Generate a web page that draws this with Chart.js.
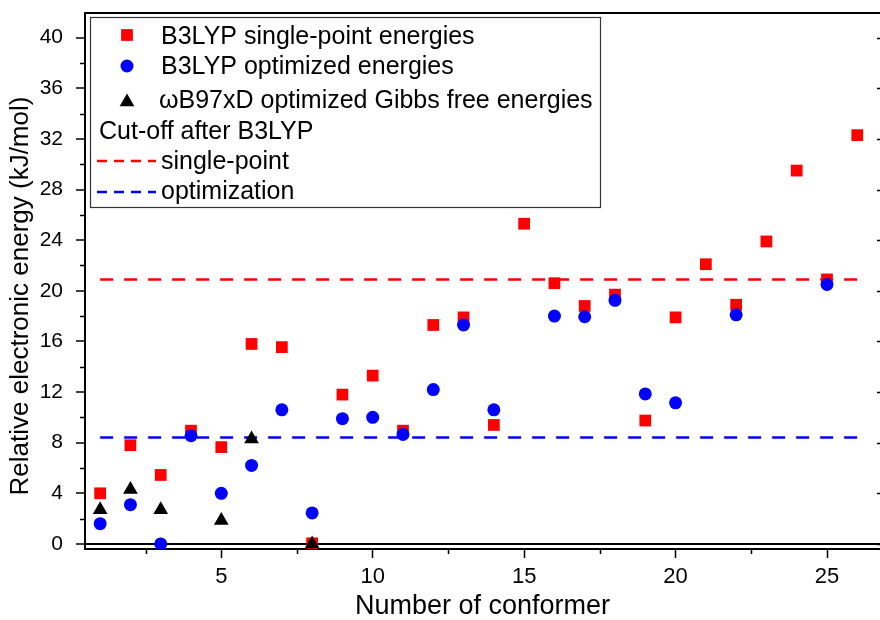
<!DOCTYPE html>
<html>
<head>
<meta charset="utf-8">
<script src="https://cdn.jsdelivr.net/npm/chart.js@4.4.0/dist/chart.umd.min.js"></script>
<style>
  html, body { margin:0; padding:0; background:#fff; }
</style>
</head>
<body>
<canvas id="chart" width="880" height="620"></canvas>
<script>
const conformers  = [1, 2, 3, 4, 5, 6, 7, 8, 9, 10, 11, 12, 13, 14, 15, 16, 17, 18, 19, 20, 21, 22, 23, 24, 25, 26];
const singlePoint = [4.0, 7.8, 5.45, 8.95, 7.65, 15.8, 15.55, 0.05, 11.8, 13.3, 8.95, 17.3, 17.9, 9.4, 25.3, 20.6, 18.8, 19.7, 9.75, 17.9, 22.1, 18.9, 23.9, 29.5, 20.9, 32.3];
const optimized   = [1.6, 3.1, 0.0, 8.55, 4.0, 6.2, 10.6, 2.45, 9.9, 10.0, 8.65, 12.2, 17.3, 10.6, null, 18.0, 17.95, 19.25, 11.85, 11.15, null, 18.1, null, null, 20.5, null];
const gibbs       = [2.7, 4.3, 2.7, null, 1.85, 8.3, null, 0.0, null, null, null, null, null, null, null, null, null, null, null, null, null, null, null, null, null, null];
const cutoffRange = [1, 26];
const cutoffSinglePoint  = 20.9;
const cutoffOptimization = 8.4;
const xTicks      = [5, 10, 15, 20, 25];
const xMinorTicks = [2.5, 7.5, 12.5, 17.5, 22.5];
const yTicks      = [0, 4, 8, 12, 16, 20, 24, 28, 32, 36, 40];
const yMinorTicks = [2, 6, 10, 14, 18, 22, 26, 30, 34, 38];

const FONT = "'Liberation Sans', Arial, sans-serif";
const R_SQUARE = 8.3, R_CIRCLE = 6.5, R_TRIANGLE = 8.5;

function pts(ys){
  const out = [];
  ys.forEach((y, i) => { if (y !== null) out.push({x: conformers[i], y: y}); });
  return out;
}

// frame, minor ticks, right ticks, y title, legend
const decor = {
  id: 'decor',
  afterDraw(chart){
    const {ctx, chartArea: a, scales: {x, y}} = chart;
    ctx.save();
    ctx.strokeStyle = '#000';

    // top spine
    ctx.lineWidth = 2;
    ctx.beginPath();
    ctx.moveTo(a.left, a.top); ctx.lineTo(a.right, a.top);
    ctx.stroke();

    // minor ticks
    ctx.lineWidth = 1.5;
    ctx.beginPath();
    xMinorTicks.forEach(v => {
      const px = Math.round(x.getPixelForValue(v)) + 0.5;
      ctx.moveTo(px, a.bottom); ctx.lineTo(px, a.bottom + 5);
    });
    yMinorTicks.forEach(v => {
      const py = Math.round(y.getPixelForValue(v)) + 0.5;
      ctx.moveTo(a.left, py); ctx.lineTo(a.left - 5, py);
    });
    // right side ticks
    yTicks.forEach(v => {
      const py = Math.round(y.getPixelForValue(v)) + 0.5;
      ctx.moveTo(877, py); ctx.lineTo(881, py);
    });
    ctx.stroke();

    // y title
    ctx.fillStyle = '#000';
    ctx.font = '26px ' + FONT;
    ctx.textAlign = 'center';
    ctx.textBaseline = 'middle';
    ctx.translate(21, 296);
    ctx.rotate(-Math.PI / 2);
    ctx.fillText('Relative electronic energy (kJ/mol)', 0, 0);
    ctx.restore();

    // legend
    ctx.save();
    ctx.strokeStyle = '#333';
    ctx.lineWidth = 1.2;
    ctx.strokeRect(90.5, 17.5, 510, 190);
    ctx.font = '25px ' + FONT;
    ctx.textBaseline = 'middle';
    ctx.textAlign = 'left';
    const draw = Chart.helpers.drawPoint;
    ctx.fillStyle = '#ff0000';
    draw(ctx, {pointStyle: 'rect', radius: R_SQUARE, rotation: 0, borderWidth: 0}, 127, 35);
    ctx.fillStyle = '#0000ff';
    draw(ctx, {pointStyle: 'circle', radius: R_CIRCLE, rotation: 0, borderWidth: 0}, 127, 66);
    ctx.fillStyle = '#000';
    draw(ctx, {pointStyle: 'triangle', radius: R_TRIANGLE, rotation: 0, borderWidth: 0}, 127, 102);
    ctx.fillStyle = '#000';
    ctx.fillText('B3LYP single-point energies', 161, 37);
    ctx.fillText('B3LYP optimized energies', 161, 67);
    ctx.fillText('\u03c9B97xD optimized Gibbs free energies', 159, 101);
    ctx.fillText('Cut-off after B3LYP', 99, 132);
    ctx.fillText('single-point', 161, 162);
    ctx.fillText('optimization', 161, 192);
    ctx.lineWidth = 2.5;
    ctx.setLineDash([10, 7]);
    ctx.strokeStyle = '#ff0000';
    ctx.beginPath(); ctx.moveTo(97, 161); ctx.lineTo(156, 161); ctx.stroke();
    ctx.strokeStyle = '#0000ff';
    ctx.beginPath(); ctx.moveTo(97, 192); ctx.lineTo(156, 192); ctx.stroke();
    ctx.restore();
  }
};

new Chart(document.getElementById('chart'), {
  type: 'scatter',
  data: {
    datasets: [
      {
        label: '\u03c9B97xD optimized Gibbs free energies',
        data: pts(gibbs),
        pointStyle: 'triangle',
        pointRadius: R_TRIANGLE,
        backgroundColor: '#000',
        borderWidth: 0,
        order: 0
      },
      {
        label: 'B3LYP optimized energies',
        data: pts(optimized),
        pointStyle: 'circle',
        pointRadius: R_CIRCLE,
        backgroundColor: '#0000ff',
        borderWidth: 0,
        order: 1
      },
      {
        label: 'B3LYP single-point energies',
        data: pts(singlePoint),
        pointStyle: 'rect',
        pointRadius: R_SQUARE,
        backgroundColor: '#ff0000',
        borderWidth: 0,
        order: 2
      },
      {
        label: 'single-point',
        type: 'line',
        data: cutoffRange.map(v => ({x: v, y: cutoffSinglePoint})),
        borderColor: '#ff0000',
        borderWidth: 2.5,
        borderDash: [13, 11],
        pointRadius: 0,
        order: 3
      },
      {
        label: 'optimization',
        type: 'line',
        data: cutoffRange.map(v => ({x: v, y: cutoffOptimization})),
        borderColor: '#0000ff',
        borderWidth: 2.5,
        borderDash: [13, 11],
        pointRadius: 0,
        order: 3
      }
    ]
  },
  options: {
    responsive: false,
    animation: false,
    layout: {autoPadding: false, padding: {top: 13, right: 0, left: 0, bottom: 0}},
    plugins: {legend: {display: false}, tooltip: {enabled: false}},
    scales: {
      x: {
        type: 'linear',
        min: 0.5,
        max: 26.75,
        afterBuildTicks: s => { s.ticks = xTicks.map(v => ({value: v})); },
        afterFit: s => { s.height = 71; s.paddingLeft = 0; s.paddingRight = 0; },
        grid: {drawOnChartArea: false, tickLength: 9, tickColor: '#000', tickWidth: 1.5},
        border: {color: '#000', width: 2},
        ticks: {color: '#000', font: {size: 22, family: FONT}, padding: 6, maxRotation: 0},
        title: {display: true, text: 'Number of conformer', color: '#000',
                font: {size: 27, family: FONT}, padding: {top: 0, bottom: -3}}
      },
      y: {
        type: 'linear',
        min: -0.4,
        max: 41.95,
        afterBuildTicks: s => { s.ticks = yTicks.map(v => ({value: v})); },
        afterFit: s => { s.width = 85; s.paddingTop = 0; s.paddingBottom = 0; },
        grid: {
          drawOnChartArea: true,
          color: c => (c.tick && c.tick.value === 0) ? '#000' : 'rgba(0,0,0,0)',
          lineWidth: 2,
          tickLength: 9,
          tickColor: '#000',
          tickWidth: 1.5
        },
        border: {color: '#000', width: 2},
        ticks: {color: '#000', font: {size: 21, family: FONT}, padding: 13}
      }
    }
  },
  plugins: [decor]
});
</script>
</body>
</html>
